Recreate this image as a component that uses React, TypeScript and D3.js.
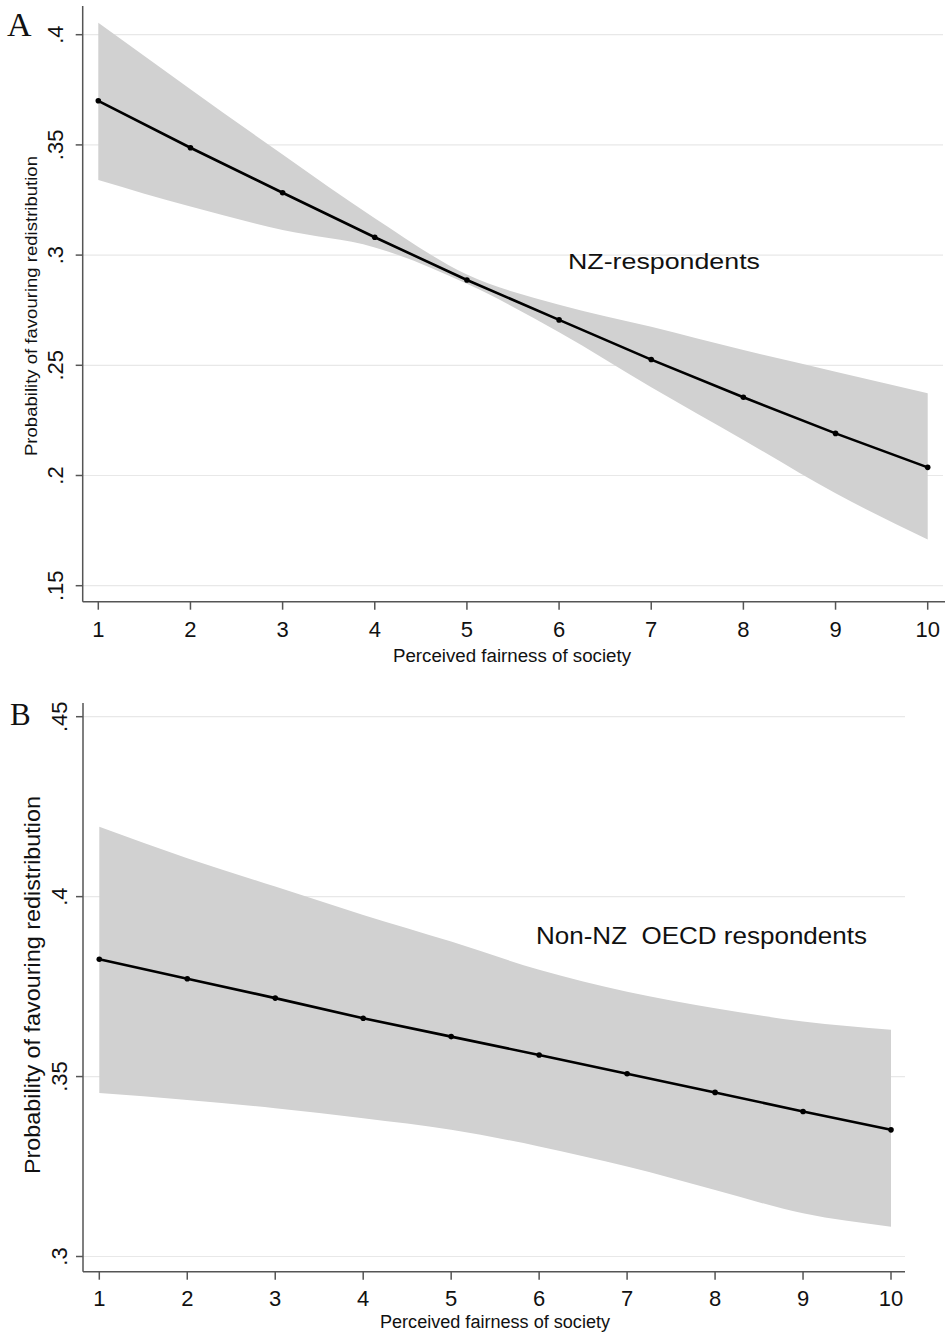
import React from "react";
import * as d3 from "d3";

// ---------- data ----------
const fairness = [1, 2, 3, 4, 5, 6, 7, 8, 9, 10];

// Panel A: NZ respondents
const nzMean = [0.37, 0.3487, 0.3283, 0.3081, 0.2887, 0.2706, 0.2526, 0.2355, 0.2191, 0.2037];
const nzUpper = [0.4054, 0.3753, 0.3456, 0.3167, 0.2912, 0.2775, 0.2675, 0.2569, 0.2471, 0.2373];
const nzLower = [0.3341, 0.322, 0.3114, 0.3035, 0.287, 0.265, 0.24, 0.2161, 0.1919, 0.171];
const nzTicks = [0.15, 0.2, 0.25, 0.3, 0.35, 0.4];
const nzTickLabels = [".15", ".2", ".25", ".3", ".35", ".4"];

// Panel B: Non-NZ OECD respondents
const oecdMean = [0.3826, 0.3772, 0.3718, 0.3662, 0.3611, 0.356, 0.3508, 0.3456, 0.3403, 0.3352];
const oecdUpper = [0.4194, 0.4107, 0.4028, 0.3949, 0.3875, 0.3797, 0.3736, 0.369, 0.3653, 0.363];
const oecdLower = [0.3454, 0.3435, 0.3412, 0.3384, 0.3352, 0.3306, 0.325, 0.3185, 0.312, 0.3083];
const oecdTicks = [0.3, 0.35, 0.4, 0.45];
const oecdTickLabels = [".3", ".35", ".4", ".45"];

const xTitle = "Perceived fairness of society";
const yTitle = "Probability of favouring redistribution";

const SANS = "'Liberation Sans', Arial, Helvetica, sans-serif";
const SERIF = "'Liberation Serif', 'Times New Roman', serif";

type PanelProps = {
  letter: string;
  letterX: number;
  letterY: number;
  letterSize: number;
  mean: number[];
  upper: number[];
  lower: number[];
  ticks: number[];
  tickLabels: string[];
  yDomain: [number, number];
  yRange: [number, number];
  xRange: [number, number];
  axisLeft: number;
  axisTop: number;
  axisBottom: number;
  axisRight: number;
  gridRight: number;
  tickLabelX: number;
  yTitleX: number;
  yTitleY: number;
  yTitleSize: number;
  yTitleLen: number;
  xTitleX: number;
  xTitleY: number;
  xTitleSize: number;
  xTitleLen: number;
  xLabelY: number;
  note: string;
  noteX: number;
  noteY: number;
  noteSize: number;
  noteLen: number;
};

function Panel(p: PanelProps) {
  const x = d3.scaleLinear().domain([1, 10]).range(p.xRange);
  const y = d3.scaleLinear().domain(p.yDomain).range(p.yRange);
  const pts = fairness.map((f, i) => ({ f, m: p.mean[i], u: p.upper[i], l: p.lower[i] }));
  const area = d3
    .area<(typeof pts)[number]>()
    .x((d) => x(d.f))
    .y0((d) => y(d.l))
    .y1((d) => y(d.u))
    .curve(d3.curveMonotoneX);
  const line = d3
    .line<(typeof pts)[number]>()
    .x((d) => x(d.f))
    .y((d) => y(d.m));

  return (
    <g>
      <text x={p.letterX} y={p.letterY} fontFamily={SERIF} fontSize={p.letterSize} fill="#111">
        {p.letter}
      </text>
      {p.ticks.map((t) => (
        <line key={"g" + t} x1={p.axisLeft} x2={p.gridRight} y1={y(t)} y2={y(t)} stroke="#e8e8e8" strokeWidth={1.2} />
      ))}
      <path d={area(pts) || ""} fill="#d1d1d1" stroke="none" />
      <path d={line(pts) || ""} fill="none" stroke="#000" strokeWidth={2.6} />
      {pts.map((d) => (
        <circle key={"c" + d.f} cx={x(d.f)} cy={y(d.m)} r={2.8} fill="#000" />
      ))}
      <line x1={p.axisLeft} x2={p.axisLeft} y1={p.axisTop} y2={p.axisBottom} stroke="#555" strokeWidth={1.5} />
      {p.ticks.map((t, i) => (
        <g key={"yt" + t}>
          <line x1={p.axisLeft - 7} x2={p.axisLeft} y1={y(t)} y2={y(t)} stroke="#555" strokeWidth={1.5} />
          <text
            transform={`translate(${p.tickLabelX},${y(t)}) rotate(-90)`}
            textAnchor="middle"
            fontFamily={SANS}
            fontSize={22}
            fill="#111"
          >
            {p.tickLabels[i]}
          </text>
        </g>
      ))}
      <line x1={p.axisLeft} x2={p.axisRight} y1={p.axisBottom} y2={p.axisBottom} stroke="#555" strokeWidth={1.5} />
      {fairness.map((f) => (
        <g key={"xt" + f}>
          <line x1={x(f)} x2={x(f)} y1={p.axisBottom} y2={p.axisBottom + 8} stroke="#555" strokeWidth={1.5} />
          <text x={x(f)} y={p.xLabelY} textAnchor="middle" fontFamily={SANS} fontSize={22} fill="#111">
            {f}
          </text>
        </g>
      ))}
      <text
        transform={`translate(${p.yTitleX},${p.yTitleY}) rotate(-90)`}
        textAnchor="middle"
        fontFamily={SANS}
        fontSize={p.yTitleSize}
        textLength={p.yTitleLen}
        lengthAdjust="spacingAndGlyphs"
        fill="#111"
      >
        {yTitle}
      </text>
      <text
        x={p.xTitleX}
        y={p.xTitleY}
        textAnchor="middle"
        fontFamily={SANS}
        fontSize={p.xTitleSize}
        textLength={p.xTitleLen}
        lengthAdjust="spacingAndGlyphs"
        fill="#111"
      >
        {xTitle}
      </text>
      <text
        x={p.noteX}
        y={p.noteY}
        fontFamily={SANS}
        fontSize={p.noteSize}
        fill="#111"
        textLength={p.noteLen}
        lengthAdjust="spacingAndGlyphs"
        style={{ whiteSpace: "pre" }}
      >
        {p.note}
      </text>
    </g>
  );
}

export default function App() {
  return (
    <svg
      width={945}
      height={1333}
      viewBox="0 0 945 1333"
      style={{ position: "absolute", left: 0, top: 0, background: "#fff", display: "block" }}
    >
      <rect x={0} y={0} width={945} height={1333} fill="#fff" />
      <Panel
        letter="A"
        letterX={7}
        letterY={36}
        letterSize={34}
        mean={nzMean}
        upper={nzUpper}
        lower={nzLower}
        ticks={nzTicks}
        tickLabels={nzTickLabels}
        yDomain={[0.15, 0.4]}
        yRange={[585.7, 34.7]}
        xRange={[98.3, 927.7]}
        axisLeft={82.7}
        axisTop={6}
        axisBottom={601.7}
        axisRight={945}
        gridRight={943}
        tickLabelX={63}
        yTitleX={37}
        yTitleY={306}
        yTitleSize={16.5}
        yTitleLen={300}
        xTitleX={512}
        xTitleY={662}
        xTitleSize={18}
        xTitleLen={238}
        xLabelY={637}
        note="NZ-respondents"
        noteX={568}
        noteY={269}
        noteSize={22}
        noteLen={192}
      />
      <Panel
        letter="B"
        letterX={10}
        letterY={725}
        letterSize={31}
        mean={oecdMean}
        upper={oecdUpper}
        lower={oecdLower}
        ticks={oecdTicks}
        tickLabels={oecdTickLabels}
        yDomain={[0.3, 0.45]}
        yRange={[1256.5, 716.7]}
        xRange={[99.3, 891]}
        axisLeft={83}
        axisTop={703}
        axisBottom={1271.7}
        axisRight={905}
        gridRight={905}
        tickLabelX={67}
        yTitleX={40}
        yTitleY={985}
        yTitleSize={22}
        yTitleLen={378}
        xTitleX={495}
        xTitleY={1328}
        xTitleSize={18}
        xTitleLen={230}
        xLabelY={1306}
        note={"Non-NZ  OECD respondents"}
        noteX={536}
        noteY={944}
        noteSize={24}
        noteLen={331}
      />
    </svg>
  );
}
